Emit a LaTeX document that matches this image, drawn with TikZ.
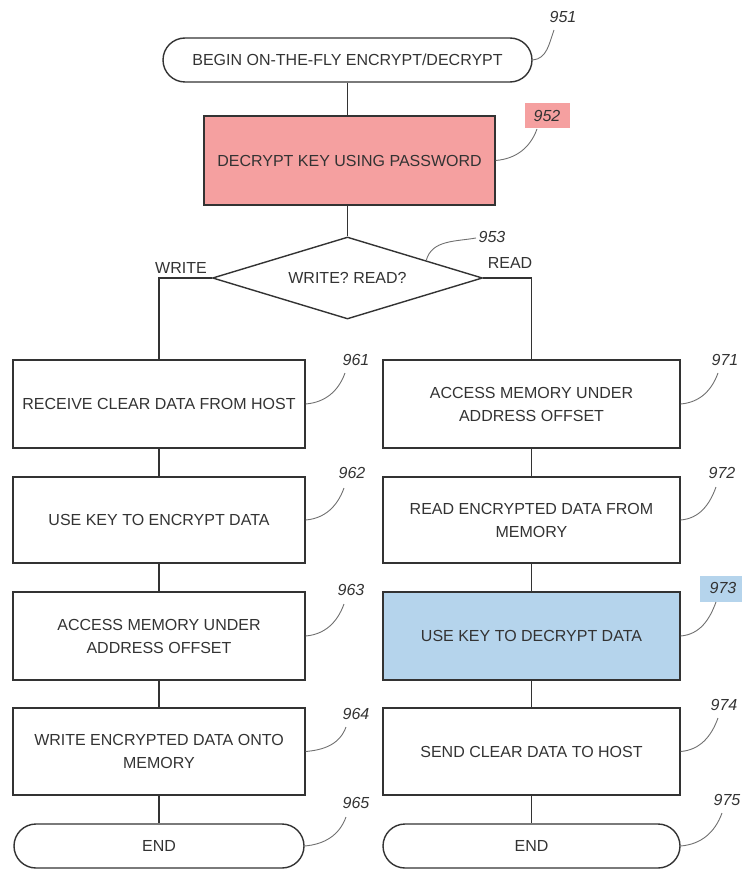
\documentclass[tikz,border=0pt]{standalone}
\usepackage{fontspec}
\setmainfont{Liberation Sans}
\usetikzlibrary{shapes.geometric,calc}
\definecolor{ink}{HTML}{333333}
\definecolor{leadgray}{HTML}{707070}
\definecolor{keyred}{HTML}{F5A0A0}
\definecolor{keyblue}{HTML}{B5D4EC}
\tikzset{
  stepbox/.style={draw=ink, line width=1.4pt, minimum width=292pt, minimum height=88pt,
    align=center, text=ink, inner sep=2pt, font=\fontsize{16}{23}\selectfont},
  terminal/.style={stepbox, rounded corners=22pt, minimum height=44pt},
  decision/.style={diamond, draw=ink, line width=1.4pt, aspect=3.3, minimum width=270pt,
    minimum height=82pt, inner sep=0pt, text=ink, font=\fontsize{16}{18}\selectfont},
  link/.style={draw=ink, line width=1.4pt},
  leader/.style={draw=leadgray, line width=0.9pt},
  ref/.style={text=ink, font=\fontsize{16}{18}\selectfont\itshape, inner sep=1pt},
  branch/.style={text=ink, font=\fontsize{16}{18}\selectfont, inner sep=1pt}
}
\begin{document}
\begin{tikzpicture}[x=1pt,y=-1pt]
\useasboundingbox (0,0) rectangle (741,869);

% main spine
\node[terminal, minimum width=369pt] (start) at (347.5,60) {BEGIN ON-THE-FLY ENCRYPT/DECRYPT};
\node[stepbox, fill=keyred, minimum width=291pt, minimum height=89pt] (unlock) at (349.5,160.5) {DECRYPT KEY USING PASSWORD};
\node[decision] (dec) at (347.5,278) {WRITE? READ?};

% write branch
\node[stepbox] (w1) at (159,404) {RECEIVE CLEAR DATA FROM HOST};
\node[stepbox, minimum height=86pt] (w2) at (159,520) {USE KEY TO ENCRYPT DATA};
\node[stepbox] (w3) at (159,636) {ACCESS MEMORY UNDER\\ADDRESS OFFSET};
\node[stepbox, minimum height=87pt] (w4) at (159,751.5) {WRITE ENCRYPTED DATA ONTO\\MEMORY};
\node[terminal, minimum width=290pt] (wend) at (159,846) {END};

% read branch
\node[stepbox, minimum width=297pt] (r1) at (531.5,404) {ACCESS MEMORY UNDER\\ADDRESS OFFSET};
\node[stepbox, minimum width=297pt, minimum height=86pt] (r2) at (531.5,520) {READ ENCRYPTED DATA FROM\\MEMORY};
\node[stepbox, minimum width=297pt, fill=keyblue] (r3) at (531.5,636) {USE KEY TO DECRYPT DATA};
\node[stepbox, minimum width=297pt, minimum height=87pt] (r4) at (531.5,751.5) {SEND CLEAR DATA TO HOST};
\node[terminal, minimum width=297pt] (rend) at (531.5,846) {END};

% flow connectors
\draw[link] (start.south) -- (start.south |- unlock.north);
\draw[link] (unlock.south -| dec.north) -- (dec.north);
\draw[link] (dec.west) -| (w1.north);
\draw[link] (dec.east) -| (r1.north);
\draw[link] (w1) -- (w2);
\draw[link] (w2) -- (w3);
\draw[link] (w3) -- (w4);
\draw[link] (w4.south) -- (wend.north);
\draw[link] (r1) -- (r2);
\draw[link] (r2) -- (r3);
\draw[link] (r3) -- (r4);
\draw[link] (r4.south) -- (rend.north);

% branch labels
\node[branch] (lw) at (181,268) {WRITE};
\node[branch] (lr) at (510,263) {READ};

% reference numerals
\node[fill=keyred, minimum width=45pt, minimum height=25pt, inner sep=0pt] (t952) at (547.5,116) {};
\node[fill=keyblue, minimum width=48pt, minimum height=26pt, inner sep=0pt] (t973) at (724,589) {};
\node[ref] (n951) at (563,17) {951};
\node[ref] (n952) at (547,116) {952};
\node[ref] (n953) at (492,237) {953};
\node[ref] (n961) at (356,360) {961};
\node[ref] (n962) at (352,473) {962};
\node[ref] (n963) at (351,590) {963};
\node[ref] (n964) at (356,714) {964};
\node[ref] (n965) at (356,803) {965};
\node[ref] (n971) at (725,360) {971};
\node[ref] (n972) at (722,473) {972};
\node[ref] (n973) at (723,588) {973};
\node[ref] (n974) at (724,705) {974};
\node[ref] (n975) at (727,800) {975};

% leader curves
\coordinate (c951) at (554,30);
\coordinate (c952) at (537,129);
\coordinate (c953) at (476,238);
\coordinate (c961) at (345,373);
\coordinate (c962) at (344,488);
\coordinate (c963) at (344,604);
\coordinate (c964) at (346,727);
\coordinate (c965) at (346,817);
\coordinate (c971) at (718,373);
\coordinate (c972) at (716,487);
\coordinate (c973) at (716,602);
\coordinate (c974) at (718,718);
\coordinate (c975) at (722,813);
\coordinate (e953) at ($(dec.north)!0.58!(dec.east)$);

\draw[leader] (start.east) to[out=5,in=250] (c951);
\draw[leader] (unlock.east) to[out=5,in=250] (c952);
\draw[leader] (e953) to[out=75,in=190] (c953);
\draw[leader] (w1.east) to[out=5,in=250] (c961);
\draw[leader] (w2.east) to[out=5,in=250] (c962);
\draw[leader] (w3.east) to[out=5,in=250] (c963);
\draw[leader] (w4.east) to[out=5,in=250] (c964);
\draw[leader] (wend.east) to[out=5,in=250] (c965);
\draw[leader] (r1.east) to[out=5,in=250] (c971);
\draw[leader] (r2.east) to[out=5,in=250] (c972);
\draw[leader] (r3.east) to[out=5,in=250] (c973);
\draw[leader] (r4.east) to[out=5,in=250] (c974);
\draw[leader] (rend.east) to[out=5,in=250] (c975);
\end{tikzpicture}
\end{document}
